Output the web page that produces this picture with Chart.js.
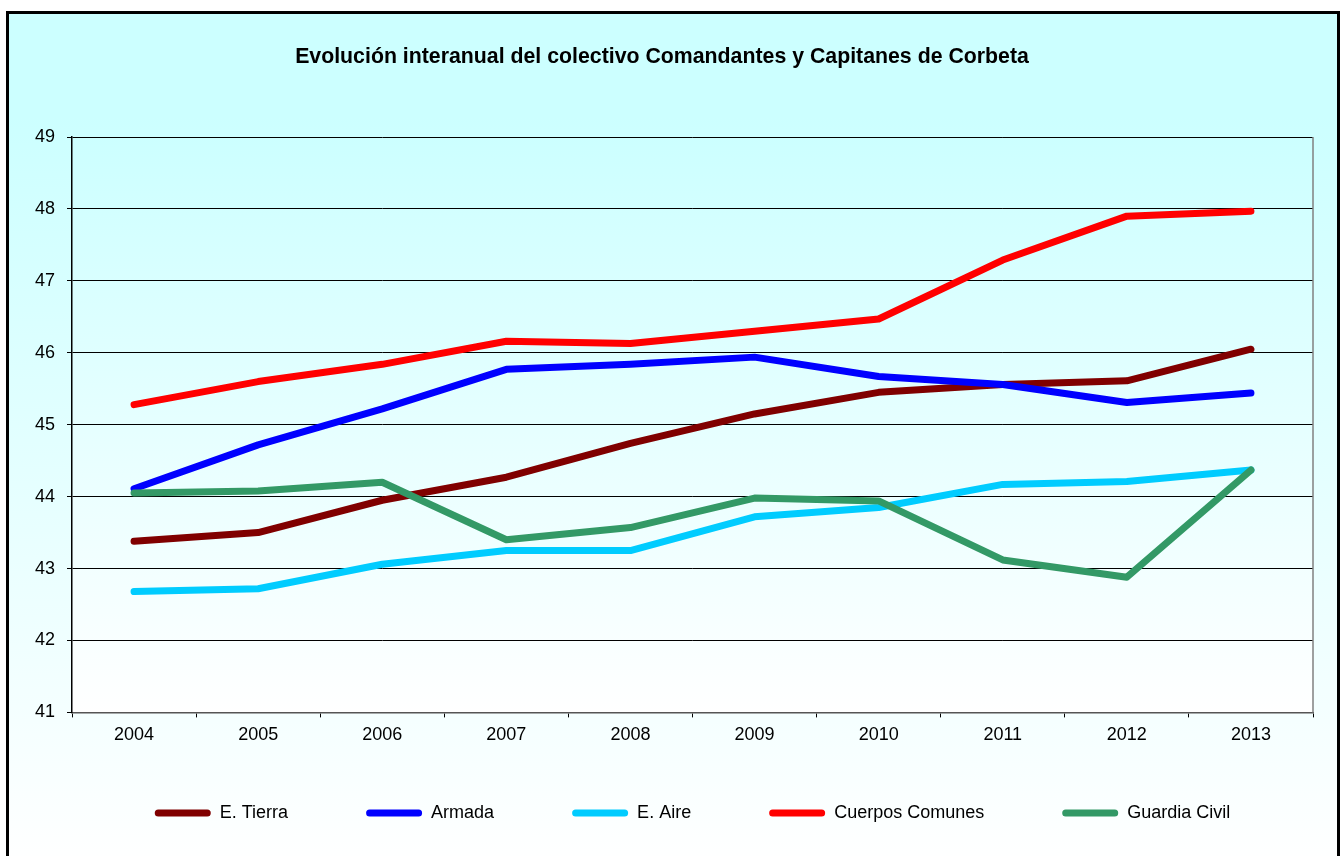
<!DOCTYPE html>
<html>
<head>
<meta charset="utf-8">
<script src="https://cdn.jsdelivr.net/npm/chart.js@4/dist/chart.umd.min.js"></script>
<style>
  html, body { margin: 0; padding: 0; width: 1343px; height: 856px; overflow: hidden; background: #fff; }
  #marco {
    position: absolute; left: 6px; top: 11px; width: 1334px; height: 860px;
    box-sizing: border-box; border: 3px solid #000;
    background: linear-gradient(to bottom, #CCFFFF 0%, #CCFFFF 12%, #FFFFFF 100%);
  }
  #myChart { position: absolute; left: 0; top: 0; }
</style>
</head>
<body>
<div id="marco"></div>
<canvas id="myChart" width="1343" height="856"></canvas>
<script>
// datos
let anios = ['2004', '2005', '2006', '2007', '2008', '2009', '2010', '2011', '2012', '2013'];
let eTierra = [43.38, 43.50, 43.95, 44.27, 44.74, 45.15, 45.45, 45.56, 45.61, 46.05];
let armada = [44.11, 44.72, 45.22, 45.77, 45.84, 45.94, 45.67, 45.56, 45.31, 45.44];
let eAire = [42.68, 42.72, 43.06, 43.25, 43.25, 43.72, 43.85, 44.17, 44.21, 44.37];
let cuerposComunes = [45.28, 45.60, 45.84, 46.16, 46.13, 46.30, 46.47, 47.29, 47.90, 47.97];
let guardiaCivil = [44.05, 44.08, 44.20, 43.40, 43.57, 43.98, 43.94, 43.12, 42.88, 44.37];

let nombres = ['E. Tierra', 'Armada', 'E. Aire', 'Cuerpos Comunes', 'Guardia Civil'];
let colores = ['#800000', '#0000FF', '#00CCFF', '#FF0000', '#339966'];
let series = [eTierra, armada, eAire, cuerposComunes, guardiaCivil];

const fuente = "'Liberation Sans', Arial, sans-serif";

// fondo degradado del area de trazado + borde derecho gris
const fondoPlot = {
    id: 'fondoPlot',
    afterLayout(chart) {
        // subir la leyenda (el padding grande de la leyenda la baja demasiado)
        chart.legend.top -= 27;
        chart.legend.bottom -= 27;
    },
    beforeDraw(chart) {
        const {ctx, chartArea: a} = chart;
        let g = ctx.createLinearGradient(0, a.top, 0, a.bottom);
        g.addColorStop(0, '#CCFFFF');
        g.addColorStop(1, '#FFFFFF');
        ctx.save();
        ctx.fillStyle = g;
        ctx.fillRect(a.left, a.top, a.right - a.left, a.bottom - a.top);
        ctx.restore();
    },
    afterDraw(chart) {
        const {ctx, chartArea: a} = chart;
        ctx.save();
        ctx.strokeStyle = '#808080';
        ctx.lineWidth = 1.5;
        ctx.beginPath();
        ctx.moveTo(a.right, a.top);
        ctx.lineTo(a.right, a.bottom);
        ctx.stroke();
        ctx.restore();
    }
};

let datasets = series.map((d, i) => ({
    label: nombres[i],
    data: d,
    borderColor: colores[i],
    backgroundColor: colores[i],
    borderWidth: 7,
    borderCapStyle: 'round',
    borderJoinStyle: 'round',
    pointRadius: 0,
    tension: 0,
    order: series.length - i
}));

var ctx = document.getElementById('myChart').getContext('2d');
let myChart = new Chart(ctx, {
    type: 'line',
    data: { labels: anios, datasets: datasets },
    plugins: [fondoPlot],
    options: {
        responsive: false,
        animation: false,
        layout: { padding: { left: 11, right: 30, top: 0, bottom: -3 } },
        scales: {
            x: {
                offset: true,
                grid: { offset: true, drawOnChartArea: false, drawTicks: true, tickLength: 5, color: '#000' },
                border: { color: '#555', width: 1.5 },
                ticks: { color: '#000', padding: 7, font: { family: fuente, size: 18 }, maxRotation: 0 }
            },
            y: {
                min: 41,
                max: 49,
                ticks: { stepSize: 1, color: '#000', padding: 12, font: { family: fuente, size: 18 } },
                grid: { color: '#000', lineWidth: 1, tickLength: 5 },
                border: { color: '#000', width: 1.5 },
                afterFit(s) { s.width = 61; }
            }
        },
        plugins: {
            title: {
                display: true,
                text: 'Evolución interanual del colectivo Comandantes y Capitanes de Corbeta',
                color: '#000',
                font: { family: fuente, size: 21.3, weight: 'bold' },
                padding: { top: 44, bottom: 67.5 }
            },
            legend: {
                position: 'bottom',
                fullSize: false,
                align: 'center',
                labels: {
                    color: '#000',
                    font: { family: fuente, size: 18 },
                    boxWidth: 56,
                    boxHeight: 7,
                    padding: 78,
                    generateLabels(chart) {
                        let items = Chart.defaults.plugins.legend.labels.generateLabels(chart);
                        items.forEach(it => {
                            it.fillStyle = it.strokeStyle;
                            it.lineWidth = 0;
                            it.borderRadius = 3.5;
                        });
                        items.sort((a, b) => a.datasetIndex - b.datasetIndex);
                        return items;
                    }
                }
            },
            tooltip: { enabled: false }
        }
    }
});
</script>
</body>
</html>
